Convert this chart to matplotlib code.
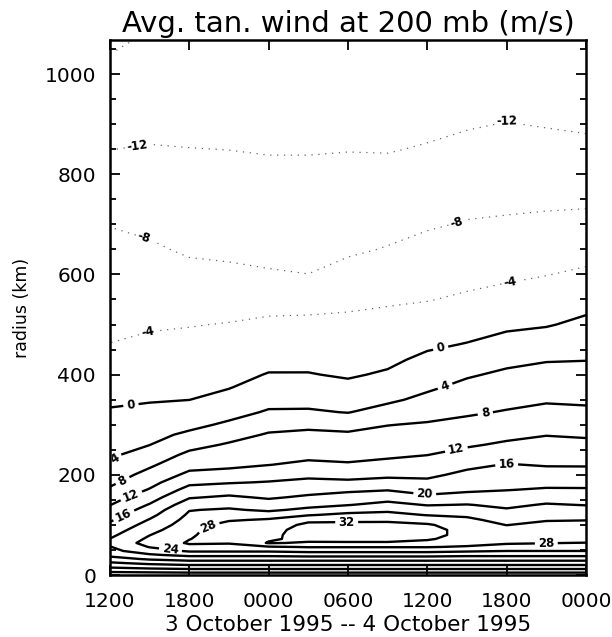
import matplotlib
matplotlib.use("Agg")
import matplotlib.pyplot as plt
import numpy as np
from matplotlib.ticker import MultipleLocator, FixedLocator

# ---------------- data ----------------
time_h = [0, 3, 6, 9, 12, 15, 18, 21, 24, 27, 30, 33, 36]
time_tick_h = [0, 6, 12, 18, 24, 30, 36]
time_tick_labels = ["1200", "1800", "0000", "0600", "1200", "1800", "0000"]
radius_km = [0, 8, 16, 24, 32, 40, 48, 56, 64, 72, 80, 90, 100, 110, 120, 130,
             140, 155, 170, 185, 200, 220, 240, 260, 280, 300, 325, 350, 375,
             400, 430, 460, 500, 550, 600, 650, 700, 750, 800, 850, 900, 950,
             1000, 1070]
# tangential wind (m/s); rows = radius, columns = time
wind_ms = [
    [1, 1, 1, 1, 1, 1, 1, 1, 1, 1, 1, 1, 1],
    [5, 5.5, 6, 6, 6, 6, 6, 6, 6, 6, 6, 6, 6],
    [8.5, 9.5, 10, 10, 10, 10, 10, 10, 10, 10, 10, 10, 10],
    [11.5, 13, 14, 14, 14, 14, 14, 14, 14, 14, 14, 14, 14],
    [14.5, 16.5, 17.5, 17.5, 17.5, 17.5, 17.5, 17.5, 17.5, 17.5, 17.5, 17.5, 17.5],
    [17, 19.5, 21, 21, 21, 21.5, 21.5, 21.5, 21.5, 21, 21, 21, 21],
    [19, 22, 24.5, 24.5, 24.5, 25, 25, 25, 25, 24.5, 24, 24, 24],
    [19.8, 24.2, 27, 27, 27.6, 28.2, 28.2, 28.2, 28.2, 27.6, 27, 26.8, 26.6],
    [21, 25.5, 28.4, 28.2, 32.3, 31.6, 31.6, 31.6, 31, 29.5, 28.3, 28.1, 27.9],
    [20.1, 24.75, 27.9, 29.8, 31.5, 33, 33.2, 33.2, 32.4, 30.5, 29.5, 29.4, 29.3],
    [19.1, 23.9, 27.35, 30.8, 31, 33.8, 34, 34, 33, 31, 30.2, 30.2, 30.2],
    [17.9, 22.75, 26.67, 31, 30.5, 33.8, 34, 34, 33, 31, 29.6, 30.4, 30.4],
    [16.7, 21.5, 25.98, 29.6, 29.6, 33, 33.2, 33.2, 32.4, 30.2, 27.9, 29.2, 29.2],
    [15.5, 20.25, 25.3, 27.54, 28.5, 31, 31.1, 31.2, 30.4, 28.8, 26.7, 27.67, 27.87],
    [14.3, 18.9, 24.6, 26, 25.85, 27.7, 28.9, 29.2, 27.8, 27.36, 25.5, 26.56, 26.53],
    [13.1, 17.6, 23.83, 24.46, 23.36, 24.86, 26.4, 27.2, 25.8, 25.76, 24.35, 25.44, 25.2],
    [11.9, 16.3, 22.17, 22.9, 21.76, 22.9, 23.85, 25.2, 23.8, 24.16, 23.2, 24.33, 23.88],
    [10.3, 14.3, 19.7, 20.6, 19.56, 20.6, 21.6, 22.4, 20.8, 21.45, 21.55, 22.4, 22.1],
    [8.6, 12.3, 17.4, 18.2, 17.9, 18.7, 19.3, 19.83, 18.6, 19.4, 19.9, 20.4, 20.35],
    [7.2, 10.7, 15.1, 15.7, 16.2, 16.9, 16.7, 17.3, 16.75, 18.2, 18.8, 18.9, 18.9],
    [6.0, 9.3, 12.9, 13.4, 14.4, 15.15, 14.7, 15.2, 15.25, 16.9, 17.7, 17.5, 17.5],
    [4.3, 7.4, 10.7, 11.2, 11.94, 12.7, 12.35, 13, 13.6, 15.14, 16.2, 15.74, 15.7],
    [3.4, 5.65, 8.84, 9.8, 10.75, 11.16, 10.97, 11.37, 11.94, 13.24, 14.4, 14.45, 14.3],
    [2.65, 3.95, 6.8, 8.4, 9.55, 9.97, 9.76, 10.23, 10.75, 11.56, 12.56, 13.16, 12.9],
    [1.9, 3.0, 4.65, 6.6, 8.36, 8.78, 8.55, 9.09, 9.55, 10.29, 11.1, 11.87, 11.56],
    [1.2, 2.0, 3.1, 4.6, 6.7, 7.2, 6.7, 7.9, 8.36, 9.0, 9.84, 10.6, 10.29],
    [0.3, 0.8, 1.52, 2.8, 4.37, 4.44, 3.875, 5.4, 6.67, 7.53, 8.25, 9.0, 8.7],
    [-0.5, -0.25, -0.03, 1.2, 2.86, 2.86, 2.3, 3.35, 4.9, 6.23, 7.0, 7.58, 7.4],
    [-1.3, -0.96, -0.71, -0.18, 1.5, 1.5, 0.75, 1.9, 3.42, 4.94, 5.84, 6.4, 6.3],
    [-2.1, -1.66, -1.4, -0.9, 0.16, 0.16, -0.36, 0.41, 2.2, 3.6, 4.66, 5.22, 5.2],
    [-3.0, -2.5, -2.2, -1.8, -0.92, -0.89, -1.2, -0.71, 0.77, 1.89, 3.07, 3.76, 3.9],
    [-3.94, -3.35, -3.04, -2.68, -1.95, -1.87, -2.04, -1.63, -0.57, 0.17, 1.33, 1.97, 2.58],
    [-4.65, -4.36, -4.15, -3.85, -3.3, -3.18, -3.16, -2.86, -2.18, -1.5, -0.71, -0.27, 0.8],
    [-5.5, -5.43, -5.65, -5.6, -5.4, -5.33, -4.84, -4.44, -4.14, -3.5, -2.79, -2.19, -1.33],
    [-6.4, -6.5, -7.16, -7.4, -7.76, -7.98, -6.95, -6.14, -5.57, -5.04, -4.62, -4.1, -3.42],
    [-7.2, -7.57, -8.4, -8.6, -8.77, -8.84, -8.46, -7.83, -7.0, -6.4, -6.09, -5.68, -5.26],
    [-8.1, -8.64, -9.28, -9.45, -9.63, -9.68, -9.4, -8.96, -8.34, -7.78, -7.56, -7.27, -7.0],
    [-9.4, -9.7, -10.17, -10.3, -10.5, -10.5, -10.3, -10.03, -9.49, -8.95, -8.74, -8.65, -8.6],
    [-10.7, -10.77, -11.06, -11.2, -11.35, -11.36, -11.2, -11.1, -10.63, -10.08, -9.79, -9.84, -9.95],
    [-12.03, -11.83, -11.95, -12.03, -12.2, -12.2, -12.1, -12.17, -11.77, -11.2, -10.84, -11.04, -11.3],
    [-13.05, -12.7, -12.75, -12.8, -13.0, -13.0, -12.9, -12.95, -12.67, -12.26, -11.9, -12.17, -12.42],
    [-14.1, -13.6, -13.55, -13.6, -13.8, -13.8, -13.7, -13.75, -13.5, -12.97, -12.78, -12.87, -13.3],
    [-15.2, -14.45, -14.35, -14.4, -14.6, -14.6, -14.5, -14.55, -14.33, -13.67, -13.65, -13.57, -14.0],
    [-16.6, -15.65, -15.5, -15.5, -15.7, -15.7, -15.6, -15.65, -15.5, -14.9, -14.87, -14.78, -15.2],
]
pos_levels = [0, 4, 8, 12, 16, 20, 24, 28, 32]
neg_levels = [-16, -12, -8, -4]

# ---------------- figure ----------------
fig = plt.figure(figsize=(6.12, 6.37), dpi=100)
ax = fig.add_axes([0.1797, 0.0973, 0.7778, 0.8399])

T, R = np.meshgrid(time_h, radius_km)
Z = np.array(wind_ms)

cs_pos = ax.contour(T, R, Z, levels=pos_levels, colors="black",
                    linewidths=1.7, linestyles="solid")
cs_neg = ax.contour(T, R, Z, levels=neg_levels, colors="0.4",
                    linewidths=0.9, linestyles="solid")
cs_neg.set_linestyle((0, (1, 4.5)))

pos_label_pts = [(1.6, 336), (25.0, 454), (0.6, 222), (25.3, 380),
                 (1.0, 186), (28.4, 320), (1.7, 152), (26.2, 250),
                 (1.1, 116), (30.0, 222), (23.8, 160), (7.4, 100),
                 (17.9, 106), (4.6, 56), (33.0, 64)]
lp = ax.clabel(cs_pos, inline=True, fontsize=8.5, fmt="%d",
               manual=pos_label_pts, inline_spacing=4)
neg_label_pts = [(2.1, 850), (30.0, 905), (2.5, 666), (26.2, 707),
                 (2.9, 479), (30.3, 579)]
ln = ax.clabel(cs_neg, inline=True, fontsize=8.5, fmt="%d",
               manual=neg_label_pts, inline_spacing=3, colors="black")
for t in list(lp) + list(ln):
    t.set_fontweight("bold")

ax.set_xlim(0, 36)
ax.set_ylim(0, 1068)
ax.xaxis.set_major_locator(FixedLocator(time_tick_h))
ax.set_xticklabels(time_tick_labels)
ax.yaxis.set_major_locator(MultipleLocator(200))
ax.yaxis.set_minor_locator(MultipleLocator(50))
ax.tick_params(which="both", direction="in", top=True, right=True,
               width=1.3, colors="black")
ax.tick_params(which="major", length=7, labelsize=14.5, pad=10)
ax.tick_params(axis="x", which="major", pad=12)
ax.tick_params(which="minor", length=4)
for s in ax.spines.values():
    s.set_linewidth(1.8)

ax.set_title("Avg. tan. wind at 200 mb (m/s)", fontsize=21, pad=6)
ax.set_xlabel("3 October 1995 -- 4 October 1995", fontsize=15.5, labelpad=3)
ax.set_ylabel("radius (km)", fontsize=12.5, labelpad=10)

fig.savefig("out.png", dpi=100)
